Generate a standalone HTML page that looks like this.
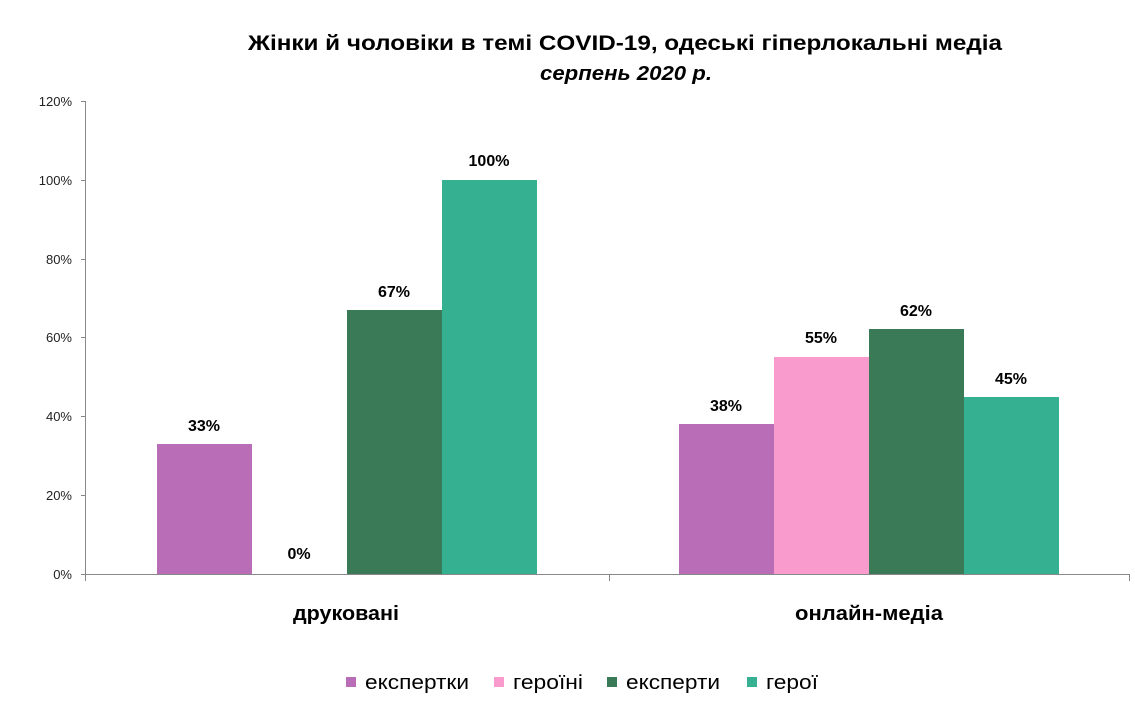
<!DOCTYPE html>
<html><head><meta charset="utf-8"><style>
html,body{margin:0;padding:0;background:#fff;}
svg{display:block;font-family:"Liberation Sans",Arial,sans-serif;}
</style></head><body>
<svg width="1135" height="713" viewBox="0 0 1135 713">
<rect width="1135" height="713" fill="#fff"/>
<text x="248" y="50" font-size="21" font-weight="bold" fill="#000" textLength="754" lengthAdjust="spacingAndGlyphs">Жінки й чоловіки в темі COVID-19, одеські гіперлокальні  медіа</text>
<text x="540" y="80" font-size="20" font-weight="bold" font-style="italic" fill="#000" textLength="172" lengthAdjust="spacingAndGlyphs">серпень 2020 р.</text>
<g stroke="#888" stroke-width="1">
<line x1="85.5" y1="101" x2="85.5" y2="581"/>
<line x1="85" y1="574.5" x2="1130" y2="574.5"/>
<line x1="81" y1="101.5" x2="85" y2="101.5"/>
<line x1="81" y1="180.5" x2="85" y2="180.5"/>
<line x1="81" y1="259.5" x2="85" y2="259.5"/>
<line x1="81" y1="337.5" x2="85" y2="337.5"/>
<line x1="81" y1="416.5" x2="85" y2="416.5"/>
<line x1="81" y1="495.5" x2="85" y2="495.5"/>
<line x1="81" y1="574.5" x2="85" y2="574.5"/>
<line x1="609.5" y1="574" x2="609.5" y2="581"/>
<line x1="1129.5" y1="574" x2="1129.5" y2="581"/>
</g>
<g font-size="13" fill="#222" text-anchor="end">
<text x="72" y="106">120%</text>
<text x="72" y="185">100%</text>
<text x="72" y="264">80%</text>
<text x="72" y="342">60%</text>
<text x="72" y="421">40%</text>
<text x="72" y="500">20%</text>
<text x="72" y="579">0%</text>
</g>
<rect x="157" y="444" width="95" height="130" fill="#b96db6"/>
<rect x="347" y="310" width="95" height="264" fill="#3a7a57"/>
<rect x="442" y="180" width="95" height="394" fill="#35b090"/>
<rect x="679" y="424" width="95" height="150" fill="#b96db6"/>
<rect x="774" y="357" width="95" height="217" fill="#f99ccd"/>
<rect x="869" y="329" width="95" height="245" fill="#3a7a57"/>
<rect x="964" y="397" width="95" height="177" fill="#35b090"/>
<g font-size="16" font-weight="bold" fill="#000" text-anchor="middle">
<text x="204" y="431">33%</text>
<text x="299" y="559">0%</text>
<text x="394" y="297">67%</text>
<text x="489" y="166">100%</text>
<text x="726" y="411">38%</text>
<text x="821" y="343">55%</text>
<text x="916" y="316">62%</text>
<text x="1011" y="384">45%</text>
</g>
<g font-size="20" font-weight="bold" fill="#000">
<text x="293" y="620" textLength="106" lengthAdjust="spacingAndGlyphs">друковані</text>
<text x="795" y="620" textLength="148" lengthAdjust="spacingAndGlyphs">онлайн-медіа</text>
</g>
<rect x="346" y="677" width="10" height="10" fill="#b96db6"/>
<rect x="494" y="677" width="10" height="10" fill="#f99ccd"/>
<rect x="607" y="677" width="10" height="10" fill="#3a7a57"/>
<rect x="747" y="677" width="10" height="10" fill="#35b090"/>
<g font-size="20" fill="#000">
<text x="365" y="689" textLength="104" lengthAdjust="spacingAndGlyphs">експертки</text>
<text x="513" y="689" textLength="70" lengthAdjust="spacingAndGlyphs">героїні</text>
<text x="626" y="689" textLength="94" lengthAdjust="spacingAndGlyphs">експерти</text>
<text x="766" y="689" textLength="52" lengthAdjust="spacingAndGlyphs">герої</text>
</g>
</svg>
</body></html>
